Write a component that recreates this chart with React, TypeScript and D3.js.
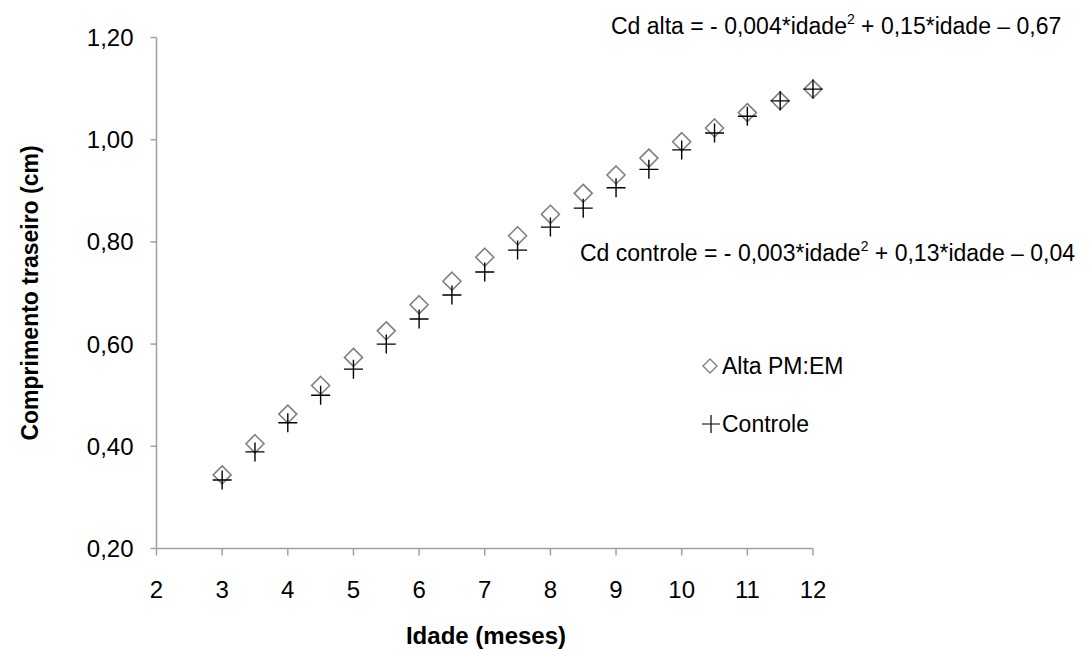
import React from "react";
import * as d3 from "d3";

const idade = [3, 3.5, 4, 4.5, 5, 5.5, 6, 6.5, 7, 7.5, 8, 8.5, 9, 9.5, 10, 10.5, 11, 11.5, 12];
const alta = [0.344, 0.405, 0.463, 0.519, 0.574, 0.626, 0.677, 0.723, 0.77, 0.812, 0.854, 0.895, 0.931, 0.964, 0.996, 1.023, 1.053, 1.076, 1.099];
const controle = [0.334, 0.389, 0.446, 0.5, 0.551, 0.6, 0.649, 0.696, 0.741, 0.784, 0.829, 0.866, 0.906, 0.942, 0.98, 1.013, 1.046, 1.076, 1.099];
const xTicks = [2, 3, 4, 5, 6, 7, 8, 9, 10, 11, 12];
const yTicks = [0.2, 0.4, 0.6, 0.8, 1.0, 1.2];
const seriesNames = ["Alta PM:EM", "Controle"];

const W = 1090;
const H = 653;
const font = "'Liberation Sans', Arial, sans-serif";
const axisColor = "#a0a0a0";

const x = d3.scaleLinear().domain([2, 12]).range([156.5, 813]);
const y = d3.scaleLinear().domain([0.2, 1.2]).range([548.5, 37.5]);
const fmt = (v: number) => d3.format(".2f")(v).replace(".", ",");

const diamond = (cx: number, cy: number, r = 9) =>
  `M${cx},${cy - r}L${cx + r},${cy}L${cx},${cy + r}L${cx - r},${cy}Z`;
const cross = (cx: number, cy: number, r = 9.5) =>
  `M${cx - r},${cy}H${cx + r}M${cx},${cy - r}V${cy + r}`;

export default function App() {
  return (
    <svg width={W} height={H} style={{ position: "absolute", left: 0, top: 0, background: "#fff" }} fontFamily={font}>
      {/* axes */}
      <line x1={x(2)} x2={x(2)} y1={y(1.2)} y2={y(0.2)} stroke={axisColor} strokeWidth={1.5} />
      <line x1={x(2)} x2={x(12)} y1={y(0.2)} y2={y(0.2)} stroke={axisColor} strokeWidth={1.5} />
      {yTicks.map((t) => (
        <g key={t}>
          <line x1={x(2) - 6} x2={x(2)} y1={y(t)} y2={y(t)} stroke={axisColor} strokeWidth={1.5} />
          <text x={x(2) - 23} y={y(t)} dy="0.35em" textAnchor="end" fontSize={24}>
            {fmt(t)}
          </text>
        </g>
      ))}
      {xTicks.map((t) => (
        <g key={t}>
          <line x1={x(t)} x2={x(t)} y1={y(0.2)} y2={y(0.2) + 7} stroke={axisColor} strokeWidth={1.5} />
          <text x={x(t)} y={590} dy="0.35em" textAnchor="middle" fontSize={24}>
            {t}
          </text>
        </g>
      ))}

      {/* axis titles */}
      <text x={486} y={636} dy="0.35em" textAnchor="middle" fontSize={24} fontWeight="bold">
        Idade (meses)
      </text>
      <text transform={`translate(30,${(y(1.2) + y(0.2)) / 2}) rotate(-90)`} dy="0.35em" textAnchor="middle" fontSize={23} fontWeight="bold">
        Comprimento traseiro (cm)
      </text>

      {/* points */}
      {idade.map((d, i) => (
        <path key={"a" + i} d={diamond(x(d), y(alta[i]))} fill="none" stroke="#808080" strokeWidth={1.6} />
      ))}
      {idade.map((d, i) => (
        <path key={"c" + i} d={cross(x(d), y(controle[i]))} fill="none" stroke="#000" strokeWidth={1.4} />
      ))}

      {/* equations */}
      <text x={611} y={34} fontSize={23}>
        Cd alta = - 0,004*idade<tspan dy={-10} fontSize={14}>2</tspan>
        <tspan dy={10}> + 0,15*idade – 0,67</tspan>
      </text>
      <text x={580} y={261} fontSize={23}>
        Cd controle = - 0,003*idade<tspan dy={-10} fontSize={14}>2</tspan>
        <tspan dy={10}> + 0,13*idade – 0,04</tspan>
      </text>

      {/* legend */}
      <path d={diamond(710, 366, 7)} fill="none" stroke="#808080" strokeWidth={1.4} />
      <text x={722} y={366} dy="0.35em" fontSize={23}>
        {seriesNames[0]}
      </text>
      <path d={cross(711, 424, 9)} fill="none" stroke="#000" strokeWidth={1.2} />
      <text x={722} y={424} dy="0.35em" fontSize={23}>
        {seriesNames[1]}
      </text>
    </svg>
  );
}
